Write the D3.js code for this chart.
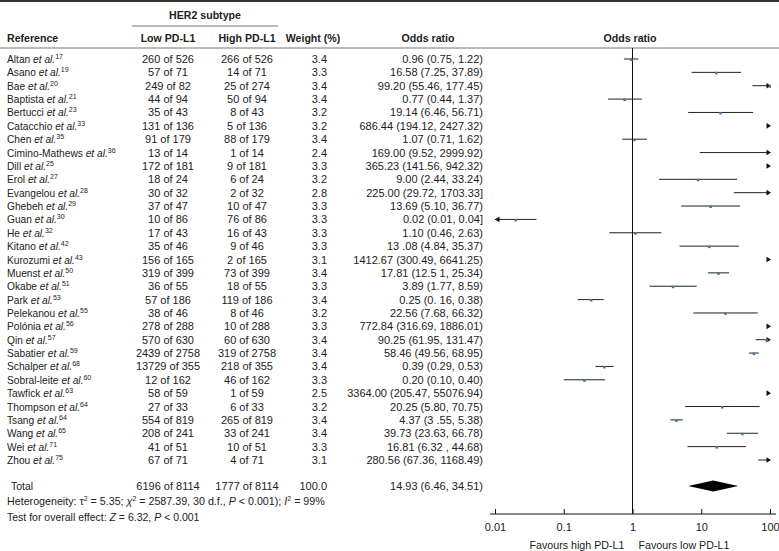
<!DOCTYPE html>
<html><head><meta charset="utf-8">
<script src="https://cdn.jsdelivr.net/npm/d3@7"></script>
<style>
body{margin:0;background:#fff;}
svg{display:block;font-family:"Liberation Sans",Arial,Helvetica,sans-serif;font-size:11px;fill:#222;}
</style></head>
<body><svg id="c" width="779" height="551"></svg>
<script>
const authors = ["Altan","Asano","Bae","Baptista","Bertucci","Catacchio","Chen","Cimino-Mathews","Dill","Erol","Evangelou","Ghebeh","Guan","He","Kitano","Kurozumi","Muenst","Okabe","Park","Pelekanou","Polónia","Qin","Sabatier","Schalper","Sobral-leite","Tawfick","Thompson","Tsang","Wang","Wei","Zhou"];
const refNums = ["17","19","20","21","23","33","35","36","25","27","28","29","30","32","42","43","50","51","53","55","56","57","59","68","60","63","64","64","65","71","75"];
const lowPD = ["260 of 526","57 of 71","249 of 82","44 of 94","35 of 43","131 of 136","91 of 179","13 of 14","172 of 181","18 of 24","30 of 32","37 of 47","10 of 86","17 of 43","35 of 46","156 of 165","319 of 399","36 of 55","57 of 186","38 of 46","278 of 288","570 of 630","2439 of 2758","13729 of 355","12 of 162","58 of 59","27 of 33","554 of 819","208 of 241","41 of 51","67 of 71"];
const highPD = ["266 of 526","14 of 71","25 of 274","50 of 94","8 of 43","5 of 136","88 of 179","1 of 14","9 of 181","6 of 24","2 of 32","10 of 47","76 of 86","16 of 43","9 of 46","2 of 165","73 of 399","18 of 55","119 of 186","8 of 46","10 of 288","60 of 630","319 of 2758","218 of 355","46 of 162","1 of 59","6 of 33","265 of 819","33 of 241","10 of 51","4 of 71"];
const weights = ["3.4","3.3","3.4","3.4","3.2","3.2","3.4","2.4","3.3","3.2","2.8","3.3","3.3","3.3","3.3","3.1","3.4","3.3","3.4","3.2","3.3","3.4","3.4","3.4","3.3","2.5","3.2","3.4","3.4","3.3","3.1"];
const orText = ["0.96 (0.75, 1.22)","16.58 (7.25, 37.89)","99.20 (55.46, 177.45)","0.77 (0.44, 1.37)","19.14 (6.46, 56.71)","686.44 (194.12, 2427.32)","1.07 (0.71, 1.62)","169.00 (9.52, 2999.92)","365.23 (141.56, 942.32)","9.00 (2.44, 33.24)","225.00 (29.72, 1703.33]","13.69 (5.10, 36.77)","0.02 (0.01, 0.04]","1.10 (0.46, 2.63)","13 .08 (4.84, 35.37)","1412.67 (300.49, 6641.25)","17.81 (12.5 1, 25.34)","3.89 (1.77, 8.59)","0.25 (0. 16, 0.38)","22.56 (7.68, 66.32)","772.84 (316.69, 1886.01)","90.25 (61.95, 131.47)","58.46 (49.56, 68.95)","0.39 (0.29, 0.53)","0.20 (0.10, 0.40)","3364.00 (205.47, 55076.94)","20.25 (5.80, 70.75)","4.37 (3 .55, 5.38)","39.73 (23.63, 66.78)","16.81 (6.32 , 44.68)","280.56 (67.36, 1168.49)"];
const orVal = [0.96,16.58,99.20,0.77,19.14,686.44,1.07,169.00,365.23,9.00,225.00,13.69,0.02,1.10,13.08,1412.67,17.81,3.89,0.25,22.56,772.84,90.25,58.46,0.39,0.20,3364.00,20.25,4.37,39.73,16.81,280.56];
const ciLow = [0.75,7.25,55.46,0.44,6.46,194.12,0.71,9.52,141.56,2.44,29.72,5.10,0.01,0.46,4.84,300.49,12.51,1.77,0.16,7.68,316.69,61.95,49.56,0.29,0.10,205.47,5.80,3.55,23.63,6.32,67.36];
const ciHigh = [1.22,37.89,177.45,1.37,56.71,2427.32,1.62,2999.92,942.32,33.24,1703.33,36.77,0.04,2.63,35.37,6641.25,25.34,8.59,0.38,66.32,1886.01,131.47,68.95,0.53,0.40,55076.94,70.75,5.38,66.78,44.68,1168.49];
const total = {low:"6196 of 8114", high:"1777 of 8114", weight:"100.0", text:"14.93 (6.46, 34.51)", or:14.93, lo:6.46, hi:34.51};
const axisTicks = [0.01,0.1,1,10,100];
const axisLabels = ["0.01","0.1","1","10","100"];

const svg = d3.select("#c");
const W = 779;
const x = d3.scaleLog().domain([0.01,100]).range([495,770]);
const y = d3.scalePoint().domain(d3.range(authors.length)).range([59,460]);
const yTotal = 486, yHet = 501, yTest = 517, yAxis = 514;

// header lines
svg.append("line").attr("x1",0).attr("x2",W).attr("y1",1).attr("y2",1).attr("stroke","#333").attr("stroke-width",2);
svg.append("line").attr("x1",0).attr("x2",W).attr("y1",48).attr("y2",48).attr("stroke","#777").attr("stroke-width",1);
svg.append("line").attr("x1",132).attr("x2",278).attr("y1",26).attr("y2",26).attr("stroke","#777").attr("stroke-width",1);

const hdr = svg.append("g").attr("font-weight","bold").attr("font-size","10.6px");
hdr.append("text").attr("x",205).attr("y",19).attr("text-anchor","middle").text("HER2 subtype");
hdr.append("text").attr("x",7).attr("y",42).text("Reference");
hdr.append("text").attr("x",168).attr("y",42).attr("text-anchor","middle").text("Low PD-L1");
hdr.append("text").attr("x",247).attr("y",42).attr("text-anchor","middle").text("High PD-L1");
hdr.append("text").attr("x",313).attr("y",42).attr("text-anchor","middle").text("Weight (%)");
hdr.append("text").attr("x",428).attr("y",42).attr("text-anchor","middle").text("Odds ratio");
hdr.append("text").attr("x",630).attr("y",42).attr("text-anchor","middle").text("Odds ratio");

// rows
const rows = svg.append("g").selectAll("g").data(d3.range(authors.length)).join("g")
  .attr("transform", i => `translate(0,${y(i)})`);
const ref = rows.append("text").attr("x",7).attr("y",4).attr("font-size","10.2px");
ref.append("tspan").text(i => authors[i] + " ");
ref.append("tspan").attr("font-style","italic").text("et al.");
ref.append("tspan").attr("font-size","7px").attr("dy",-4).text(i => refNums[i]);
rows.append("text").attr("x",168).attr("y",4).attr("text-anchor","middle").text(i => lowPD[i]);
rows.append("text").attr("x",247).attr("y",4).attr("text-anchor","middle").text(i => highPD[i]);
rows.append("text").attr("x",327).attr("y",4).attr("text-anchor","end").text(i => weights[i]);
rows.append("text").attr("x",483).attr("y",4).attr("text-anchor","end").text(i => orText[i]);

// total row
const tg = svg.append("g").attr("transform",`translate(0,${yTotal})`);
tg.append("text").attr("x",11).attr("y",4).attr("font-size","10.5px").text("Total");
tg.append("text").attr("x",168).attr("y",4).attr("text-anchor","middle").text(total.low);
tg.append("text").attr("x",247).attr("y",4).attr("text-anchor","middle").text(total.high);
tg.append("text").attr("x",327).attr("y",4).attr("text-anchor","end").text(total.weight);
tg.append("text").attr("x",483).attr("y",4).attr("text-anchor","end").text(total.text);

const het = svg.append("text").attr("x",7).attr("y",yHet+4).attr("font-size","10.7px");
het.append("tspan").text("Heterogeneity: τ");
het.append("tspan").attr("font-size","7px").attr("dy",-4).text("2");
het.append("tspan").attr("dy",4).text(" = 5.35; ");
het.append("tspan").attr("font-style","italic").text("χ");
het.append("tspan").attr("font-size","7px").attr("dy",-4).text("2");
het.append("tspan").attr("dy",4).text(" = 2587.39, 30 d.f., ");
het.append("tspan").attr("font-style","italic").text("P");
het.append("tspan").text(" < 0.001); ");
het.append("tspan").attr("font-style","italic").text("I");
het.append("tspan").attr("font-size","7px").attr("dy",-4).text("2");
het.append("tspan").attr("dy",4).text(" = 99%");

const tst = svg.append("text").attr("x",7).attr("y",yTest+4).attr("font-size","10.5px");
tst.append("tspan").text("Test for overall effect: ");
tst.append("tspan").attr("font-style","italic").text("Z");
tst.append("tspan").text(" = 6.32, ");
tst.append("tspan").attr("font-style","italic").text("P");
tst.append("tspan").text(" < 0.001");

// forest
const [xmin,xmax] = x.domain();
svg.append("line").attr("x1",x(1)).attr("x2",x(1)).attr("y1",48).attr("y2",yAxis).attr("stroke","#111").attr("stroke-width",1);

const fg = svg.append("g");
d3.range(authors.length).forEach(i => {
  const yy = y(i);
  const lo = ciLow[i], hi = ciHigh[i], o = orVal[i];
  if (lo < xmax) {
    const x1 = x(Math.max(lo,xmin)), x2 = x(Math.min(hi,xmax));
    fg.append("line").attr("x1",x1).attr("x2",x2).attr("y1",yy).attr("y2",yy).attr("stroke","#222").attr("stroke-width",1);
  }
  if (hi > xmax) {
    const tx = x(xmax)+1;
    fg.append("path").attr("d",`M${tx},${yy}L${tx-4.5},${yy-2.8}L${tx-4.5},${yy+2.8}Z`).attr("fill","#111");
  }
  if (lo <= xmin) {
    const tx = x(xmin);
    fg.append("path").attr("d",`M${tx},${yy}L${tx+4.5},${yy-2.8}L${tx+4.5},${yy+2.8}Z`).attr("fill","#111");
  }
  if (o >= xmin && o <= xmax) {
    fg.append("rect").attr("x",x(o)-1.25).attr("y",yy-0.5).attr("width",2.5).attr("height",2.5).attr("fill","#3f76b8");
  }
});

// diamond
svg.append("path").attr("d",`M${x(total.lo)},${yTotal}L${x(total.or)},${yTotal-5.5}L${x(total.hi)},${yTotal}L${x(total.or)},${yTotal+5.5}Z`).attr("fill","#000");

// axis
const ax = svg.append("g").attr("transform",`translate(0,${yAxis})`)
  .call(d3.axisBottom(x).tickValues(axisTicks).tickFormat((d,i)=>axisLabels[i]).tickSize(-5).tickSizeOuter(0).tickPadding(9));
ax.select(".domain").remove();
ax.append("line").attr("x1",x.range()[0]-5).attr("x2",x.range()[1]+6).attr("stroke","#111");
ax.selectAll(".tick line").attr("stroke","#111");
ax.selectAll("text").attr("font-size","11px").attr("font-family","Liberation Sans, Arial, sans-serif").attr("fill","#222");

svg.append("text").attr("x",x(1)-8).attr("y",549).attr("font-size","10.7px").attr("text-anchor","end").text("Favours high PD-L1");
svg.append("text").attr("x",x(1)+6).attr("y",549).attr("font-size","10.7px").attr("text-anchor","start").text("Favours low PD-L1");
</script></body></html>
